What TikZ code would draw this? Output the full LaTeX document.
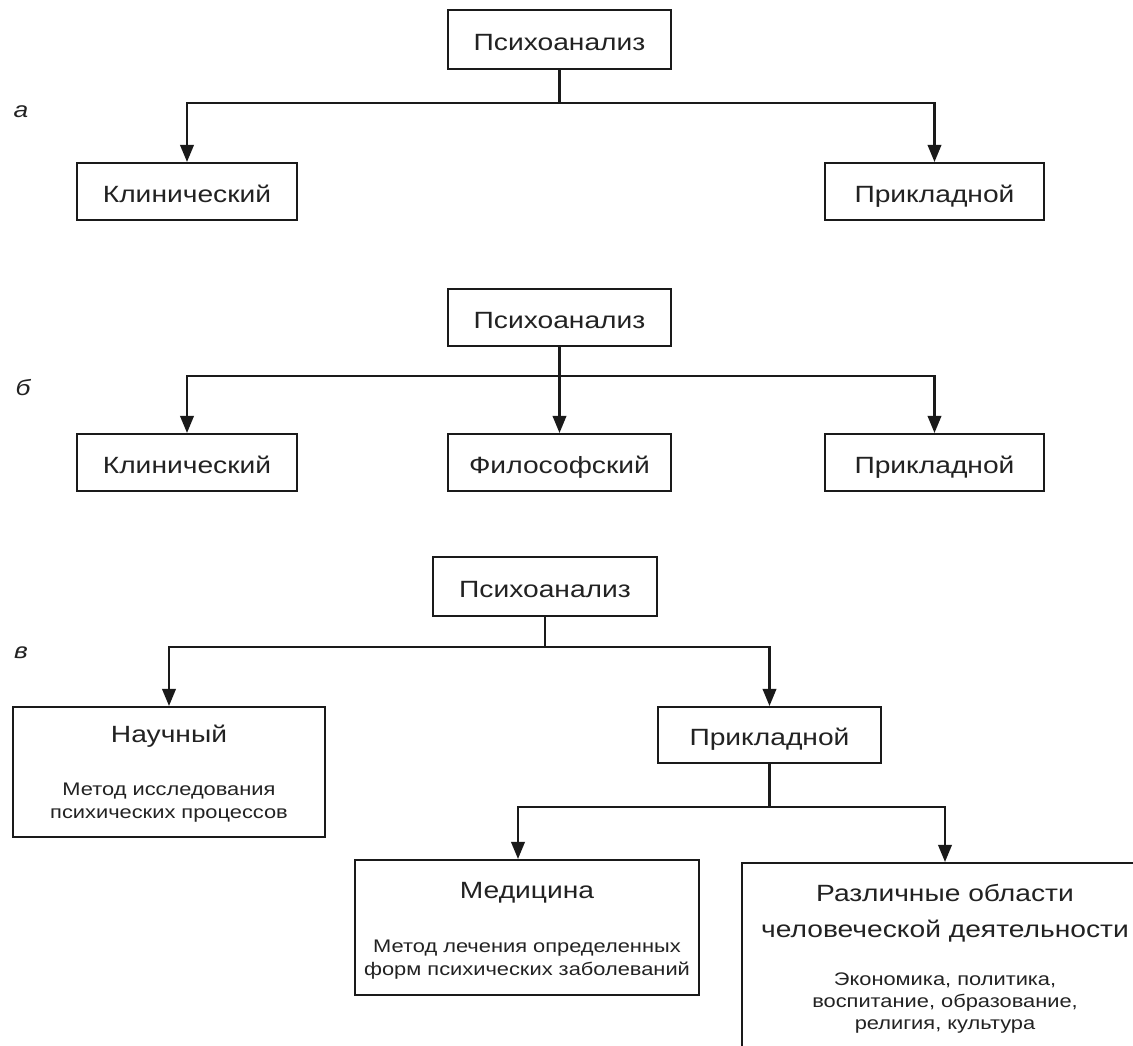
\documentclass[tikz,border=0pt]{standalone}
\usepackage{fontspec}
\setmainfont[FakeStretch=1.2]{Liberation Sans}
\usetikzlibrary{arrows.meta}
\definecolor{ink}{HTML}{1A1A1A}
\definecolor{txt}{HTML}{222222}
\newcommand\mainf{\fontsize{23.5}{28}\selectfont}
\newcommand\titf{\fontsize{23.5}{28}\selectfont}
\newcommand\subf{\fontsize{18.2}{22}\selectfont}
\newcommand\lblf{\fontsize{22}{24}\selectfont\itshape}
\begin{document}
\begin{tikzpicture}[x=1pt,y=-1pt,
  ln/.style={draw=ink, line width=2.1pt},
  arr/.style={ln, -{Triangle[length=17pt,width=13.5pt]}},
  box/.style={draw=ink, line width=2.1pt, rectangle, inner sep=0pt, text=txt, font=\mainf, text height=21pt, text depth=0pt},
  frame/.style={draw=ink, line width=2.1pt, rectangle, inner sep=0pt},
  ttl/.style={text=txt, font=\titf, inner sep=0pt},
  subt/.style={text=txt, font=\subf, inner sep=0pt},
  lbl/.style={text=txt, font=\lblf, inner sep=0pt}]
\useasboundingbox[fill=white] (0,0) rectangle (1133,1045);

% ---------- a ----------
\node[lbl, anchor=base] (la) at (21,117) {а};
\node[box, minimum width=223pt, minimum height=59pt] (pa) at (559.5,39.5) {Психоанализ};
\node[box, minimum width=220pt, minimum height=57pt] (ka) at (187,191.5) {Клинический};
\node[box, minimum width=219pt, minimum height=57pt] (pra) at (934.5,191.5) {Прикладной};
\coordinate (ja) at (559.5,103);
\draw[ln] (pa.south) -- (ja);
\draw[arr] (ja) -| (ka.north);
\draw[arr] (ja) -| (pra.north);

% ---------- b ----------
\node[lbl, anchor=base] (lb) at (23,395) {б};
\node[box, minimum width=223pt, minimum height=57pt] (pb) at (559.5,317.5) {Психоанализ};
\node[box, minimum width=220pt, minimum height=57pt] (kb) at (187,462.5) {Клинический};
\node[box, minimum width=223pt, minimum height=57pt] (fb) at (559.5,462.5) {Философский};
\node[box, minimum width=219pt, minimum height=57pt] (prb) at (934.5,462.5) {Прикладной};
\coordinate (jb) at (559.5,376);
\draw[arr] (pb.south) -- (fb.north);
\draw[arr] (jb) -| (kb.north);
\draw[arr] (jb) -| (prb.north);

% ---------- c ----------
\node[lbl, anchor=base] (lc) at (21,658) {в};
\node[box, minimum width=224pt, minimum height=59pt] (pc) at (545,586.5) {Психоанализ};
\node[frame, minimum width=312pt, minimum height=130pt] (nauch) at (169,772) {};
\node[box, minimum width=223pt, minimum height=56pt] (prc) at (769.5,735) {Прикладной};
\node[frame, minimum width=344pt, minimum height=135pt] (med) at (527,927.5) {};
\node[frame, minimum width=406pt, minimum height=202pt] (razl) at (945,964) {};

\coordinate (jc) at (545,647);
\draw[ln] (pc.south) -- (jc);
\draw[arr] (jc) -| (nauch.north);
\draw[arr] (jc) -| (prc.north);
\coordinate (jd) at (769.5,807);
\draw[ln] (prc.south) -- (jd);
\draw[arr] (jd) -| ([xshift=-9pt]med.north);
\draw[arr] (jd) -| (razl.north);

\node[ttl, anchor=base] (tn) at (169,742) {Научный};
\node[subt, anchor=base] (sn1) at (169,795) {Метод исследования};
\node[subt, anchor=base] (sn2) at (169,818) {психических процессов};

\node[ttl, anchor=base] (tm) at (527,898) {Медицина};
\node[subt, anchor=base] (sm1) at (527,952) {Метод лечения определенных};
\node[subt, anchor=base] (sm2) at (527,975) {форм психических заболеваний};

\node[ttl, anchor=base] (tr1) at (945,901) {Различные области};
\node[ttl, anchor=base] (tr2) at (945,937) {человеческой деятельности};
\node[subt, anchor=base] (sr1) at (945,985) {Экономика, политика,};
\node[subt, anchor=base] (sr2) at (945,1007) {воспитание, образование,};
\node[subt, anchor=base] (sr3) at (945,1029) {религия, культура};
\end{tikzpicture}
\end{document}
